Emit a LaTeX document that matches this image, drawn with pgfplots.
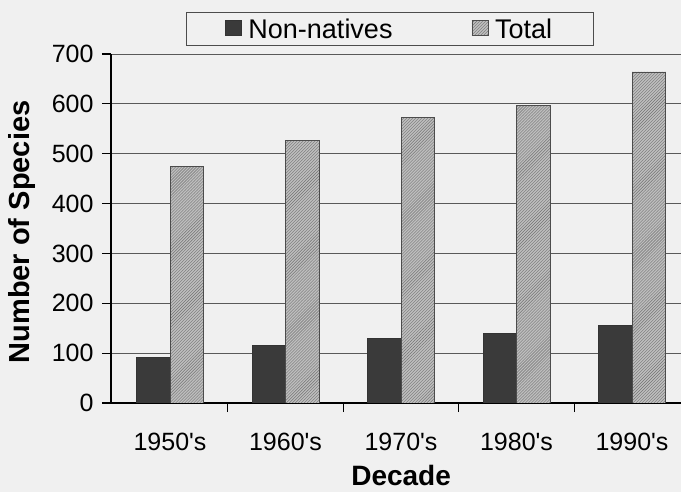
\documentclass[border=0pt]{standalone}
\usepackage{fontspec}
\setmainfont{Liberation Sans}[Ligatures=TeXOff]
\usepackage{pgfplots}
\pgfplotsset{compat=1.18}
\usetikzlibrary{patterns}
\definecolor{bg}{RGB}{240,240,240}
\definecolor{nn}{RGB}{58,58,58}
\definecolor{tot}{RGB}{190,190,190}
\begin{document}
\begin{tikzpicture}
\fill[bg] (0,0) rectangle (681bp,492bp);
\begin{axis}[
  name=ax,
  at={(111bp,89bp)}, anchor=south west,
  scale only axis,
  width=570bp, height=349bp,
  xmin=-0.511, xmax=4.424,
  ymin=0, ymax=700,
  axis x line*=bottom, axis y line*=left,
  axis line style={line width=1.2bp, black},
  ybar=0pt, bar width=33.5bp,
  xtick={0,1,2,3,4},
  xticklabels={1950's,1960's,1970's,1980's,1990's},
  minor xtick={0.5,1.5,2.5,3.5},
  ytick={0,100,...,700},
  minor ytick={0,100,...,700},
  major tick length=0pt,
  minor tick length=9bp,
  tick align=outside,
  tick style={black, line width=1.2bp},
  ymajorgrids,
  grid style={black!65, line width=0.9bp},
  /pgf/number format/assume math mode=true,
  ticklabel style={font=\fontsize{25bp}{30bp}\selectfont},
  yticklabel style={xshift=-14bp},
  xticklabel style={yshift=-27bp},
  xlabel={Decade},
  ylabel={Number of Species},
  xlabel style={font=\bfseries\fontsize{28bp}{33bp}\selectfont, at={(axis description cs:0.509,-0.208)}, anchor=center, inner sep=0pt},
  ylabel style={font=\bfseries\fontsize{29bp}{34bp}\selectfont, at={(axis description cs:-0.157,0.49)}, anchor=center},
  legend columns=2,
  legend style={
    at={(axis description cs:0.4895,1.0716)}, anchor=center,
    draw=black!70, line width=0.8bp, fill=bg,
    font=\fontsize{27bp}{31bp}\selectfont,
    inner xsep=38bp, inner ysep=3bp,
    nodes={inner sep=3bp},
    /tikz/every odd column/.append style={column sep=4bp},
    /tikz/every even column/.append style={column sep=76bp},
  },
  legend image code/.code={\draw[#1, line width=0.6bp] (0bp,-6.5bp) rectangle (16bp,9bp);},
]
\addplot[draw=black!80, fill=nn, line width=0.8bp] coordinates {(0,92) (1,115) (2,130) (3,139) (4,155)};
\addplot[draw=black!70, fill=tot, line width=0.8bp, postaction={pattern=north east lines, pattern color=black!55}] coordinates {(0,475) (1,527) (2,573) (3,597) (4,664)};
\legend{Non-natives, Total}
\end{axis}
\pgfresetboundingbox
\path[use as bounding box] (0,0) rectangle (681bp,492bp);
\end{tikzpicture}
\end{document}
